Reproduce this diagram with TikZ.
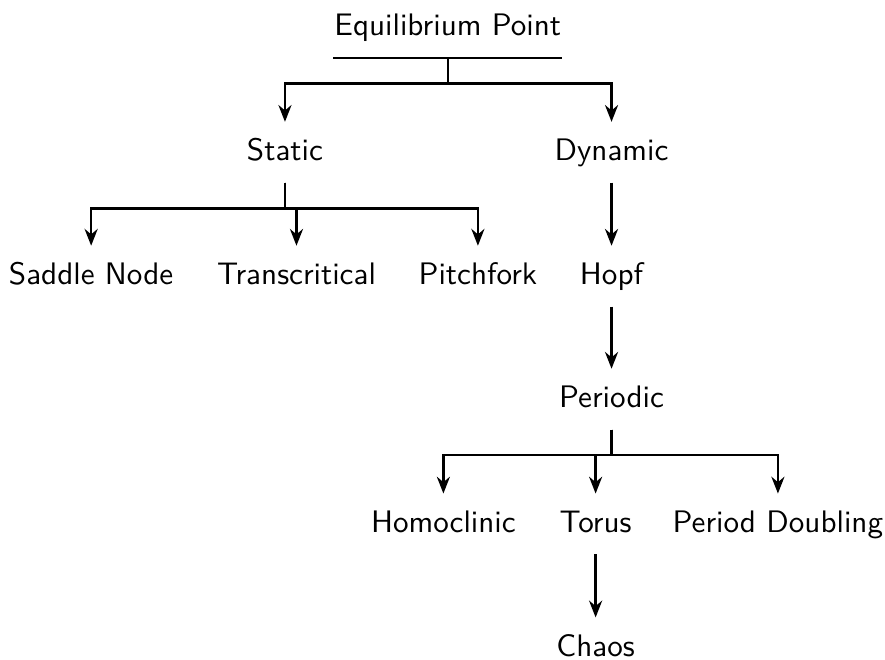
\documentclass[tikz,border=0pt]{standalone}
\usepackage{tikz}
\usetikzlibrary{arrows.meta, positioning}
\tikzstyle{leaf} = [font=\sffamily, text height=1.5ex, text depth=.25ex, inner ysep=5.6pt]
\tikzstyle{root} = [leaf, inner xsep=0pt]
\newcommand{\drop}{0.29}

\begin{document}
\begin{tikzpicture}[>={Stealth[length=5.4pt,width=4.2pt]}, thick, on grid]
  \useasboundingbox (-5.06,0.31) rectangle (4.94,-7.14);
  \node [root] (eq) at (0,0) {Equilibrium Point};
  \node [leaf, below left=1.41cm and 1.84cm of eq] (static) {Static};
  \node [leaf, below right=1.41cm and 1.85cm of eq] (dynamic) {Dynamic};
  \node [leaf, below left=1.4cm and 2.19cm of static] (saddle) {Saddle Node};
  \node [leaf, below right=1.4cm and 0.13cm of static] (trans) {Transcritical};
  \node [leaf, below right=1.4cm and 2.18cm of static] (pitch) {Pitchfork};
  \node [leaf, below=1.4cm of dynamic] (hopf) {Hopf};
  \node [leaf, below=1.39cm of hopf] (periodic) {Periodic};
  \node [leaf, below left=1.41cm and 1.9cm of periodic] (homo) {Homoclinic};
  \node [leaf, below left=1.41cm and 0.18cm of periodic] (torus) {Torus};
  \node [leaf, below right=1.41cm and 1.88cm of periodic] (pd) {Period Doubling};
  \node [leaf, below=1.4cm of torus] (chaos) {Chaos};
  \draw (eq.south west) -- (eq.south east);
  \draw [->] (eq.south) -- ++(0,-\drop) -| (static.north);
  \draw [->] (eq.south) -- ++(0,-\drop) -| (dynamic.north);
  \draw [->] (static.south) -- ++(0,-\drop) -| (saddle.north);
  \draw [->] (static.south) -- ++(0,-\drop) -| (trans.north);
  \draw [->] (static.south) -- ++(0,-\drop) -| (pitch.north);
  \draw [->] (dynamic) -- (hopf);
  \draw [->] (hopf) -- (periodic);
  \draw [->] (periodic.south) -- ++(0,-\drop) -| (homo.north);
  \draw [->] (periodic.south) -- ++(0,-\drop) -| (torus.north);
  \draw [->] (periodic.south) -- ++(0,-\drop) -| (pd.north);
  \draw [->] (torus) -- (chaos);
\end{tikzpicture}
\end{document}
